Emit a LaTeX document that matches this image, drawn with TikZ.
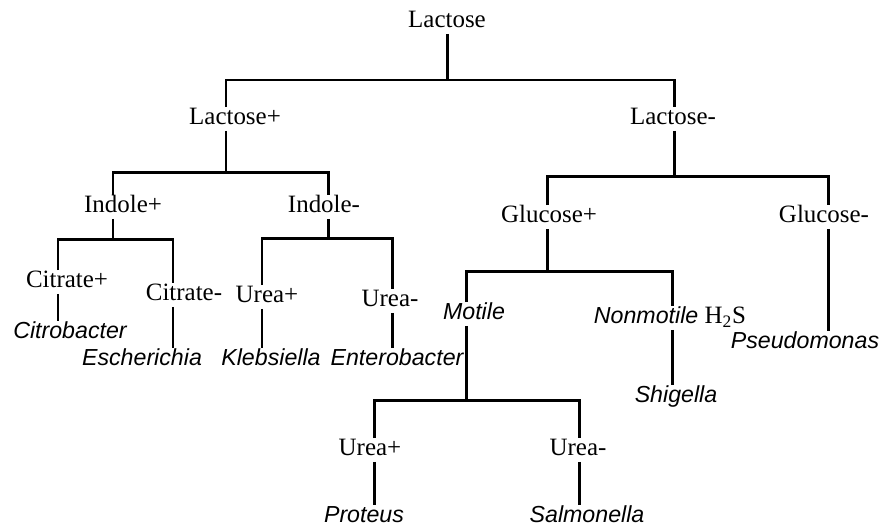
\documentclass[tikz,border=0pt]{standalone}
\usepackage{fontspec}
\setmainfont{Liberation Serif}
\setsansfont{Liberation Sans}
\newcommand\genus[1]{{\fontsize{13.2}{16}\selectfont\sffamily\itshape #1}}

\begin{document}
\begin{tikzpicture}[x=0.02cm,y=-0.02cm,line width=1.7pt]
\tikzstyle{tx}=[inner xsep=0pt,inner ysep=0.06cm,text height=0.75em,text depth=0.1em,font=\fontsize{14.2}{17}\selectfont]
\tikzstyle{gn}=[tx,font=\fontsize{13.2}{16}\selectfont\sffamily\itshape]
\useasboundingbox (0,0) rectangle (884,528);
% tests
\node[tx] (lac) at (447,22) {Lactose};
\node[tx] (lp) at (235,119) {Lactose+};  \node[tx] (lm) at (673,119) {Lactose-};
\node[tx] (ip) at (123,207) {Indole+};   \node[tx] (im) at (324,207) {Indole-};
\node[tx] (gp) at (549,217) {Glucose+};  \node[tx] (gm) at (824,217) {Glucose-};
\node[tx] (cp) at (67,282) {Citrate+};   \node[tx] (cm) at (184,295) {Citrate-};
\node[tx] (up) at (267,297) {Urea+};     \node[tx] (um) at (390,301) {Urea-};
\node[gn] (mo) at (474,314) {Motile};
\node[tx] (nm) at (670,318) {\genus{Nonmotile} H\textsubscript{2}S};
\node[tx] (ua) at (370,450) {Urea+};     \node[tx] (ub) at (578,450) {Urea-};
% bacteria
\foreach \n/\x/\y/\t in {cb/70/333/Citrobacter,es/142/360/Escherichia,kl/271/360/Klebsiella,
  en/397/360/Enterobacter,sh/676/397/Shigella,ps/805/343/Pseudomonas,pr/364/517/Proteus,sa/587/517/Salmonella}
  \node[gn] (\n) at (\x,\y) {\t};
% branch bars
\foreach \n/\x/\y in {a1/226/80,a2/674/80,b1/113/172,b2/328/172,c1/547/176,c2/828/176,
  d1/58/239,d2/173/239,e1/262/238,e2/392/238,f1/466/271,f2/672/271,g1/374/400,g2/579/400}
  \coordinate (\n) at (\x,\y);
\draw (lac.south) -- (lac.south |- a1);
\draw (lp.north -| a1) |- (a2) -- (lm.north -| a2);
\draw (lp.south -| a1) -- (a1 |- b1);
\draw (ip.north -| b1) |- (b2) -- (im.north -| b2);
\draw (lm.south -| a2) -- (a2 |- c1);
\draw (gp.north -| c1) |- (c2) -- (gm.north -| c2);
\draw (ip.south -| b1) -- (b1 |- d1);
\draw (cp.north -| d1) |- (d2) -- (cm.north -| d2);
\draw (im.south -| b2) -- (b2 |- e1);
\draw (up.north -| e1) |- (e2) -- (um.north -| e2);
\draw (gp.south -| c1) -- (c1 |- f1);
\draw (mo.north -| f1) |- (f2) -- (nm.north -| f2);
\draw (mo.south -| f1) -- (f1 |- g1);
\draw (ua.north -| g1) |- (g2) -- (ub.north -| g2);
% down to the bacteria
\foreach \p/\c/\b in {cp/cb/d1,cm/es/d2,up/kl/e1,um/en/e2,nm/sh/f2,gm/ps/c2,ua/pr/g1,ub/sa/g2}
  \draw (\p.south -| \b) -- (\c.north -| \b);
\end{tikzpicture}
\end{document}
